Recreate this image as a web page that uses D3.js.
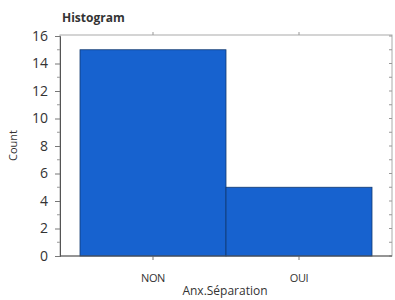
<!DOCTYPE html>
<html>
<head>
<meta charset="utf-8">
<script src="https://cdn.jsdelivr.net/npm/d3@7"></script>
<style>
  body { margin: 0; background: #fff; }
  text { font-family: "Open Sans", "DejaVu Sans", sans-serif; fill: #333; }
</style>
</head>
<body>
<svg id="chart" width="395" height="300"></svg>
<script>
const categories = ["NON", "OUI"];
const counts = [15, 5];
const yTicks = [0, 2, 4, 6, 8, 10, 12, 14, 16];

const svg = d3.select("#chart");
const margin = { left: 60, right: 3, top: 35, bottom: 44 };
const width = 395, height = 300;
const x0 = margin.left, x1 = width - margin.right;
const y0 = height - margin.bottom, y1 = margin.top;

const x = d3.scaleBand().domain(categories).range([x0 + 20, x1 - 20]).paddingInner(0);
const y = d3.scaleLinear().domain([0, 16]).range([y0, y0 - 220]);

// frame
svg.append("rect")
  .attr("x", x0).attr("y", y1)
  .attr("width", x1 - x0).attr("height", y0 - y1)
  .attr("fill", "#fff").attr("stroke", "#aaa").attr("stroke-width", 1);

// bars
svg.selectAll(".bar")
  .data(counts)
  .enter()
  .append("rect")
  .attr("class", "bar")
  .attr("x", (d, i) => x(categories[i]))
  .attr("y", d => y(d))
  .attr("width", x.bandwidth())
  .attr("height", d => y(0) - y(d))
  .attr("fill", "#1762cf")
  .attr("stroke", "#123a70")
  .attr("stroke-width", 0.8);

// minor ticks on right side
const minor = d3.range(0, 16.01, 1);
svg.selectAll(".rtick")
  .data(minor)
  .enter()
  .append("line")
  .attr("x1", x1).attr("x2", x1 - 3)
  .attr("y1", d => y(d)).attr("y2", d => y(d))
  .attr("stroke", "#999");

// y axis
const yAxis = svg.append("g")
  .attr("transform", `translate(${x0},0)`)
  .call(d3.axisLeft(y).tickValues(yTicks).tickSize(5).tickPadding(7));
yAxis.select(".domain").attr("stroke", "#555");
yAxis.selectAll(".tick line").attr("stroke", "#777");
yAxis.selectAll("text").style("font-size", "14px").attr("fill", "#333");
svg.selectAll(".lminor")
  .data(minor.filter(d => d % 2 === 1))
  .enter()
  .append("line")
  .attr("x1", x0).attr("x2", x0 - 3)
  .attr("y1", d => y(d)).attr("y2", d => y(d))
  .attr("stroke", "#999");

// x axis
const xAxis = svg.append("g")
  .attr("transform", `translate(0,${y0})`)
  .call(d3.axisBottom(x).tickSize(4).tickPadding(14));
xAxis.select(".domain").remove();
xAxis.selectAll(".tick line").attr("stroke", "#777");
xAxis.selectAll("text").style("font-size", "11px").style("letter-spacing", "-0.4px").attr("fill", "#333");
svg.append("line")
  .attr("x1", x0).attr("x2", x1).attr("y1", y0).attr("y2", y0)
  .attr("stroke", "#555");
svg.selectAll(".ttick")
  .data(categories)
  .enter()
  .append("line")
  .attr("x1", d => x(d) + x.bandwidth() / 2).attr("x2", d => x(d) + x.bandwidth() / 2)
  .attr("y1", y1).attr("y2", y1 - 3)
  .attr("stroke", "#999");

// labels
svg.append("text")
  .attr("x", 62).attr("y", 22)
  .style("font-size", "12px").style("font-weight", "bold")
  .text("Histogram");

svg.append("text")
  .attr("transform", `translate(17,${(y0 + y1) / 2}) rotate(-90)`)
  .attr("text-anchor", "middle")
  .style("font-size", "11px")
  .text("Count");

svg.append("text")
  .attr("x", 225).attr("y", 295)
  .attr("text-anchor", "middle")
  .style("font-size", "12px")
  .text("Anx.Séparation");
</script>
</body>
</html>
